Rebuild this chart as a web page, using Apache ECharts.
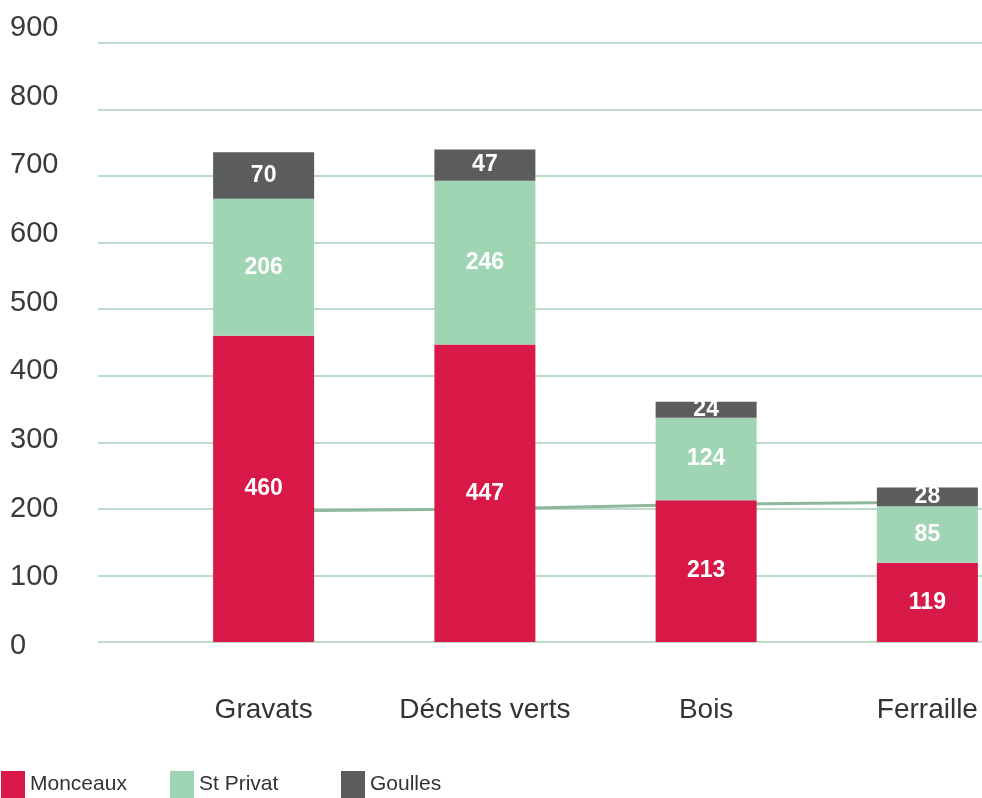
<!DOCTYPE html>
<html>
<head>
<meta charset="utf-8">
<script src="https://cdn.jsdelivr.net/npm/echarts@6/dist/echarts.min.js"></script>
<style>
  html, body { margin: 0; padding: 0; background: #fff; overflow: hidden; }
  /* plus large que la fenêtre : la dernière bande de catégorie dépasse à droite */
  #chart { width: 1038px; height: 798px; }
</style>
</head>
<body>
<div id="chart"></div>
<script>
var categories = ['Gravats', 'Déchets verts', 'Bois', 'Ferraille'];
var monceaux = [460, 447, 213, 119];
var stPrivat = [206, 246, 124, 85];
var goulles = [70, 47, 24, 28];
// ligne verte plus épaisse qui passe derrière les barres (vers 200)
var tendance = [197, 200, 207, 210];
var yTicks = { min: 0, max: 900, interval: 100 };

var font = "'Liberation Sans', Arial, sans-serif";
var myChart = echarts.init(document.getElementById('chart'));

function legendItem(name, left) {
    return {
        data: [name],
        left: left,
        top: 771,
        padding: 0,
        icon: 'rect',
        itemWidth: 24,
        itemHeight: 27,
        selectedMode: false,
        textStyle: { fontFamily: font, fontSize: 21, color: '#333' }
    };
}

function barSerie(name, data, color) {
    return {
        name: name,
        type: 'bar',
        stack: 'total',
        xAxisIndex: 2,
        yAxisIndex: 2,
        barWidth: 101,
        z: 3,
        itemStyle: { color: color },
        label: {
            show: true,
            position: 'inside',
            color: '#fff',
            fontFamily: font,
            fontWeight: 'bold',
            fontSize: 23
        },
        data: data
    };
}

var option = {
    animation: false,
    backgroundColor: '#fff',
    legend: [
        legendItem('Monceaux', 1),
        legendItem('St Privat', 170),
        legendItem('Goulles', 341)
    ],
    grid: [
        { left: 98, right: 56, top: 43, bottom: 156 },  // lignes de grille
        { left: 98, right: 56, top: 28, bottom: 152 },  // libellés de l'axe Y
        { left: 153, right: 0, top: 43, bottom: 156 }   // barres
    ],
    xAxis: [
        { gridIndex: 0, type: 'value', min: 0, max: 1, show: false },
        { gridIndex: 1, type: 'value', min: 0, max: 1, show: false },
        {
            gridIndex: 2,
            type: 'category',
            data: categories,
            axisLine: { show: false },
            axisTick: { show: false },
            axisLabel: { interval: 0, fontFamily: font, fontSize: 28, color: '#333', margin: 54 }
        }
    ],
    yAxis: [
        {
            gridIndex: 0, type: 'value',
            min: yTicks.min, max: yTicks.max, interval: yTicks.interval,
            axisLine: { show: false },
            axisTick: { show: false },
            axisLabel: { show: false },
            splitLine: { lineStyle: { color: '#a9cfb7', width: 1.5 } }
        },
        {
            gridIndex: 1, type: 'value',
            min: yTicks.min, max: yTicks.max, interval: yTicks.interval,
            axisLine: { show: false },
            axisTick: { show: false },
            splitLine: { show: false },
            axisLabel: { align: 'left', margin: 88, fontFamily: font, fontSize: 29, color: '#3a3a3a' }
        },
        {
            gridIndex: 2, type: 'value',
            min: yTicks.min, max: yTicks.max, interval: yTicks.interval,
            show: false
        }
    ],
    series: [
        {
            name: 'tendance',
            type: 'line',
            xAxisIndex: 2,
            yAxisIndex: 2,
            z: 1,
            symbol: 'none',
            silent: true,
            lineStyle: { color: '#8db89b', width: 3 },
            data: tendance
        },
        barSerie('Monceaux', monceaux, '#d81847'),
        barSerie('St Privat', stPrivat, '#a0d5b4'),
        barSerie('Goulles', goulles, '#5b5d5c')
    ]
};

myChart.setOption(option);
</script>
</body>
</html>
